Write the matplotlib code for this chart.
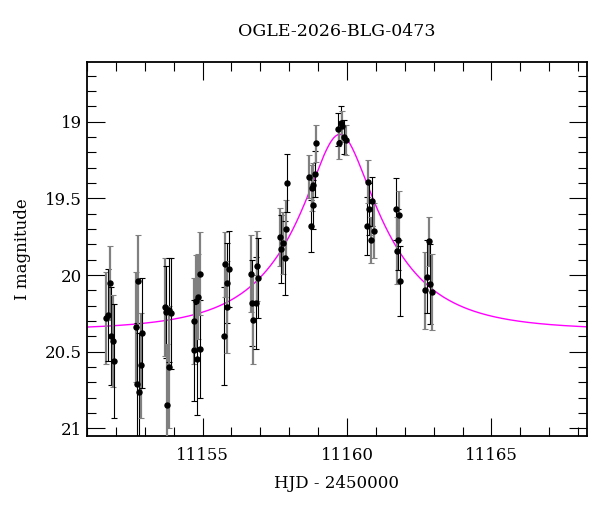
import numpy as np
import matplotlib
matplotlib.use("Agg")
import matplotlib.pyplot as plt
from matplotlib.ticker import MultipleLocator, FuncFormatter

# Observations (HJD - 2450000, I mag, error)
hjd = [11151.67, 11151.72, 11151.81, 11151.84, 11151.89, 11151.94,
       11152.71, 11152.73, 11152.77, 11152.81, 11152.86, 11152.91,
       11153.69, 11153.75, 11153.77, 11153.84, 11153.85, 11153.91,
       11154.69, 11154.72, 11154.78, 11154.81, 11154.84, 11154.90, 11154.92,
       11155.74, 11155.78, 11155.83, 11155.85, 11155.91,
       11156.67, 11156.72, 11156.75, 11156.85, 11156.88, 11156.91,
       11157.69, 11157.72, 11157.77, 11157.85, 11157.89, 11157.92,
       11158.70, 11158.75, 11158.80, 11158.82, 11158.84, 11158.90, 11158.92,
       11159.69, 11159.73, 11159.79, 11159.84, 11159.90, 11159.96,
       11160.68, 11160.71, 11160.76, 11160.83, 11160.87, 11160.92,
       11161.69, 11161.72, 11161.77, 11161.80, 11161.83,
       11162.69, 11162.76, 11162.84, 11162.87, 11162.93]
imag = [20.28, 20.26, 20.05, 20.40, 20.43, 20.56,
        20.34, 20.71, 20.04, 20.76, 20.59, 20.38,
        20.21, 20.24, 20.85, 20.23, 20.60, 20.25,
        20.30, 20.49, 20.17, 20.55, 20.14, 20.48, 19.99,
        20.40, 19.93, 20.05, 20.21, 19.96,
        19.99, 20.18, 20.29, 20.18, 19.94, 20.02,
        19.75, 19.83, 19.79, 19.89, 19.70, 19.40,
        19.36, 19.68, 19.43, 19.54, 19.41, 19.34, 19.14,
        19.05, 19.14, 19.01, 19.03, 19.10, 19.12,
        19.68, 19.39, 19.57, 19.77, 19.52, 19.71,
        19.57, 19.84, 19.77, 19.61, 20.04,
        20.10, 20.01, 19.78, 20.06, 20.11]
ierr = [0.30, 0.30, 0.24, 0.32, 0.30, 0.37,
        0.36, 0.40, 0.30, 0.38, 0.34, 0.36,
        0.32, 0.30, 0.40, 0.34, 0.40, 0.36,
        0.28, 0.33, 0.30, 0.36, 0.28, 0.32, 0.27,
        0.32, 0.21, 0.26, 0.30, 0.25,
        0.25, 0.28, 0.29, 0.30, 0.23, 0.26,
        0.19, 0.22, 0.20, 0.24, 0.19, 0.19,
        0.14, 0.17, 0.15, 0.16, 0.14, 0.15, 0.12,
        0.11, 0.10, 0.11, 0.10, 0.11, 0.10,
        0.19, 0.14, 0.17, 0.15, 0.16, 0.18,
        0.20, 0.22, 0.20, 0.16, 0.23,
        0.25, 0.24, 0.16, 0.26, 0.25]

# Point-lens model parameters
t0 = 11159.75
tE = 3.05
u0 = 0.32
I_base = 20.36

title = "OGLE-2026-BLG-0473"


def paczynski(t):
    u = np.sqrt(u0**2 + ((t - t0) / tE)**2)
    amp = (u**2 + 2) / (u * np.sqrt(u**2 + 4))
    return I_base - 2.5 * np.log10(amp)


plt.rcParams['font.family'] = ['DejaVu Serif']
fig = plt.figure(figsize=(6, 5.12), dpi=100)
ax = fig.add_axes([0.145, 0.1484, 0.833, 0.7306])

tt = np.linspace(11151.0, 11168.3, 800)
ax.plot(tt, paczynski(tt), color='#ff00ff', lw=1.0, zorder=2)

for i, (t, m, e) in enumerate(zip(hjd, imag, ierr)):
    c = '#808080' if i % 2 == 0 else 'black'
    lw = 1.6 if i % 2 == 0 else 0.8
    ax.errorbar(t, m, yerr=e, fmt='none', ecolor=c, elinewidth=lw,
                capsize=2.5, capthick=0.8, zorder=3)
ax.plot(hjd, imag, 'o', color='black', ms=3.6, zorder=4)

ax.set_xlim(11151.0, 11168.3)
ax.set_ylim(21.05, 18.61)

ax.xaxis.set_major_locator(MultipleLocator(5))
ax.xaxis.set_minor_locator(MultipleLocator(1))
ax.yaxis.set_major_locator(MultipleLocator(0.5))
ax.yaxis.set_minor_locator(MultipleLocator(0.1))
ax.yaxis.set_major_formatter(FuncFormatter(lambda v, p: '%g' % v))
ax.xaxis.set_major_formatter(FuncFormatter(lambda v, p: '%d' % v))

ax.tick_params(which='both', direction='in', top=True, right=True,
               labelsize=12, width=0.8)
ax.tick_params(which='major', length=13)
ax.tick_params(which='minor', length=6.5)
ax.tick_params(axis='x', pad=8)
for s in ax.spines.values():
    s.set_linewidth(1.3)

ax.set_xlabel("HJD - 2450000", fontsize=12, labelpad=8)
ax.set_ylabel("I magnitude", fontsize=12, labelpad=10)
ax.set_title(title, fontsize=12.5, pad=19)

fig.savefig("out.png", dpi=100)
